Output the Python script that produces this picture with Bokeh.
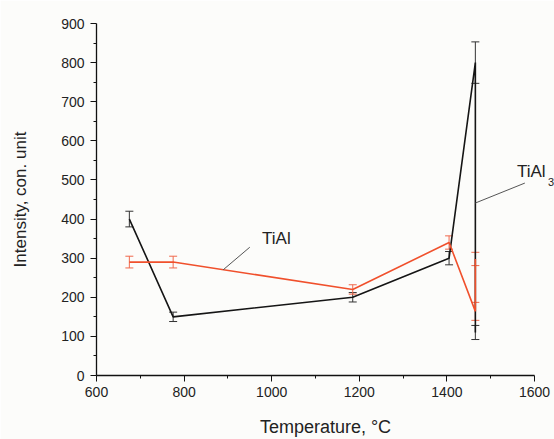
from bokeh.plotting import figure
from bokeh.models import ColumnDataSource, Whisker, TeeHead, FixedTicker, Label, Range1d
from bokeh.embed import file_html
from bokeh.resources import INLINE

# Data
temps_black = [675, 775, 1185, 1405, 1465, 1465]
black_vals = [400, 150, 200, 300, 800, 110]
black_err = [20, 12, 12, 17, 53, 18]

temps_red = [675, 775, 1185, 1405, 1465, 1465]
red_vals = [290, 290, 220, 340, 164, 298]
red_err = [15, 15, 12, 17, 23, 17]

x_major = [600, 800, 1000, 1200, 1400, 1600]
x_minor = [700, 900, 1100, 1300, 1500]
y_major = [0, 100, 200, 300, 400, 500, 600, 700, 800, 900]
y_minor = [50, 150, 250, 350, 450, 550, 650, 750, 850]

# callout annotations (data coordinates)
tial_line_x = [889, 950]
tial_line_y = [270, 328]
tial_text = (978, 326)
tial3_line_x = [1465, 1578]
tial3_line_y = [441, 492]
tial3_text = (1560, 497)

FONT = "Liberation Sans"
BG = "#fcfcfa"

# frame spans to the right window edge; axis drawn only over 600..1600
p = figure(width=554, height=439, output_backend="svg", toolbar_location=None,
           x_range=Range1d(600, 1645.7), y_range=Range1d(0, 900),
           min_border_left=96, min_border_right=0, min_border_top=23, min_border_bottom=63,
           background_fill_color=BG, border_fill_color=BG)
p.outline_line_color = None
p.xgrid.visible = False
p.ygrid.visible = False

for ax in (p.xaxis[0], p.yaxis[0]):
    ax.axis_line_color = "#111111"
    ax.axis_line_width = 1.3
    ax.major_tick_line_color = "#111111"
    ax.minor_tick_line_color = "#111111"
    ax.major_tick_in = 0
    ax.major_tick_out = 6
    ax.minor_tick_in = 0
    ax.minor_tick_out = 3
    ax.major_label_text_font = FONT
    ax.major_label_text_font_size = "14px"
    ax.major_label_text_color = "#222222"
    ax.axis_label_text_font = FONT
    ax.axis_label_text_font_style = "normal"
    ax.axis_label_text_color = "#222222"

p.xaxis[0].bounds = (600, 1600)
p.xaxis[0].axis_label_text_font_size = "18px"
p.yaxis[0].axis_label_text_font_size = "17px"
p.xaxis[0].ticker = FixedTicker(ticks=x_major, minor_ticks=x_minor)
p.yaxis[0].ticker = FixedTicker(ticks=y_major, minor_ticks=y_minor)
p.xaxis[0].axis_label = "Temperature, °C"
p.yaxis[0].axis_label = "Intensity, con. unit"
p.xaxis[0].major_label_standoff = 5
p.yaxis[0].major_label_standoff = 6
p.xaxis[0].axis_label_standoff = 17
p.yaxis[0].axis_label_standoff = 28

# black series
bsrc = ColumnDataSource(dict(x=temps_black, y=black_vals,
                             lo=[v - e for v, e in zip(black_vals, black_err)],
                             hi=[v + e for v, e in zip(black_vals, black_err)]))
p.line("x", "y", source=bsrc, line_color="#151515", line_width=1.6)
p.add_layout(Whisker(source=bsrc, base="x", lower="lo", upper="hi", dimension="height",
                     line_color="#333333", line_width=1,
                     upper_head=TeeHead(size=8, line_color="#333333", line_width=1),
                     lower_head=TeeHead(size=8, line_color="#333333", line_width=1)))

# red series
rsrc = ColumnDataSource(dict(x=temps_red, y=red_vals,
                             lo=[v - e for v, e in zip(red_vals, red_err)],
                             hi=[v + e for v, e in zip(red_vals, red_err)]))
p.line("x", "y", source=rsrc, line_color="#f0502c", line_width=1.6)
p.add_layout(Whisker(source=rsrc, base="x", lower="lo", upper="hi", dimension="height",
                     line_color="#f0684c", line_width=1,
                     upper_head=TeeHead(size=8, line_color="#f0684c", line_width=1),
                     lower_head=TeeHead(size=8, line_color="#f0684c", line_width=1)))

# callouts
p.line(tial_line_x, tial_line_y, line_color="#555555", line_width=1)
p.line(tial3_line_x, tial3_line_y, line_color="#555555", line_width=1)
p.add_layout(Label(x=tial_text[0], y=tial_text[1], text="TiAl", text_font=FONT,
                   text_font_size="17px", text_color="#222222"))
p.add_layout(Label(x=tial3_text[0], y=tial3_text[1], text="TiAl", text_font=FONT,
                   text_font_size="17px", text_color="#222222"))
p.add_layout(Label(x=tial3_text[0], y=tial3_text[1], x_offset=31, y_offset=-5, text="3",
                   text_font=FONT, text_font_size="11px", text_color="#222222"))

open("out.html", "w").write(file_html(p, INLINE))
